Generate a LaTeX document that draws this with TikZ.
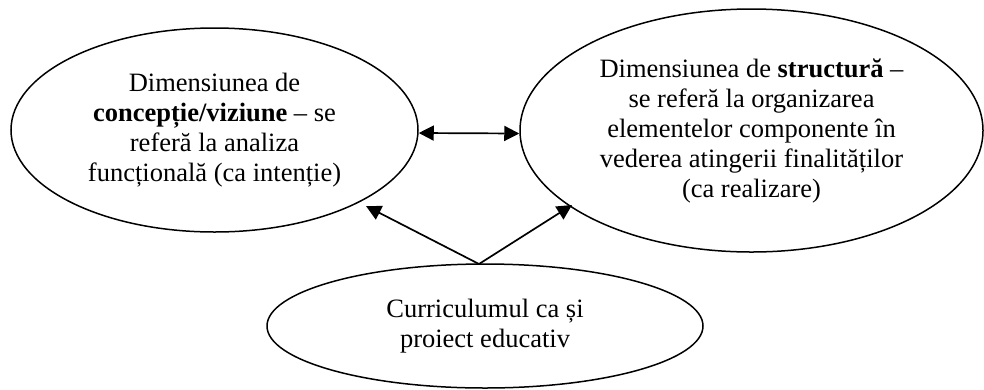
\documentclass[tikz,border=0pt]{standalone}
\usepackage{fontspec}
\setmainfont{Liberation Serif}
\usetikzlibrary{shapes.geometric,arrows.meta}

\begin{document}
\begin{tikzpicture}[x=1pt,y=-1pt,
  bubble/.style={draw=black,line width=1.5pt,ellipse,inner sep=0pt,align=center,
    font=\fontsize{26.5}{30}\selectfont},
  tip/.style={Triangle[length=15pt,width=15pt]},
  link/.style={line width=1.7pt,-{Triangle[length=15pt,width=15pt]}},
  duallink/.style={line width=1.7pt,{Triangle[length=15pt,width=15pt]}-{Triangle[length=15pt,width=15pt]}}]
  \useasboundingbox (0,0) rectangle (984,389);

  % the three dimensions of the curriculum
  \node[bubble,minimum width=407pt,minimum height=204pt] (concept) at (214.5,130)
    {Dimensiunea de\\\textbf{concepție/viziune} – se\\referă la analiza\\funcțională (ca intenție)};
  \node[bubble,minimum width=463pt,minimum height=243pt] (struct) at (751.5,130.5)
    {Dimensiunea de \textbf{structură} –\\se referă la organizarea\\elementelor componente în\\vederea atingerii finalităților\\(ca realizare)};
  \node[bubble,minimum width=436pt,minimum height=124pt] (project) at (485,326)
    {Curriculumul ca și\\proiect educativ};

  % link ends
  \coordinate (fork) at (479,264);
  \coordinate (tipL) at (366,206);
  \coordinate (tipR) at (572,205);

  \draw[duallink] ([yshift=-3pt]concept.east) -- ([yshift=-3pt]struct.west);
  \draw[link] (fork) -- (tipL);
  \draw[link] (fork) -- (tipR);
\end{tikzpicture}
\end{document}
